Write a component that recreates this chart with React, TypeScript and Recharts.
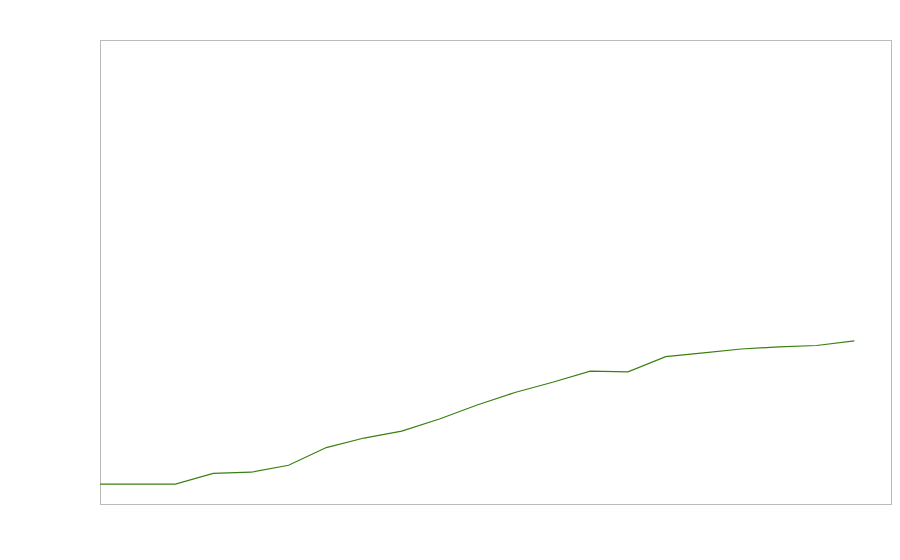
import React from "react";
import { LineChart, Line, XAxis, YAxis, ReferenceArea } from "recharts";

const indices = [0, 1, 2, 3, 4, 5, 6, 7, 8, 9, 10, 11, 12, 13, 14, 15, 16, 17, 18, 19, 20];
const values = [4.5, 4.5, 4.5, 6.8, 7.05, 8.55, 12.35, 14.4, 15.9, 18.5, 21.5, 24.2, 26.4, 28.8, 28.65, 31.9, 32.7, 33.55, 34.0, 34.3, 35.3];

const data = indices.map((i, k) => ({ x: i, v: values[k] }));

const FrameShape = (props: any) => (
  <rect
    x={props.x + 0.5}
    y={props.y + 0.5}
    width={props.width - 1}
    height={props.height - 1}
    fill="none"
    stroke="#bbbbbb"
    strokeWidth={1}
  />
);

export default function App() {
  return (
    <LineChart
      width={884}
      height={545}
      data={data}
      margin={{ top: 32, right: 0, bottom: 48, left: 92 }}
    >
      <XAxis dataKey="x" type="number" domain={[0, 21]} hide />
      <YAxis type="number" domain={[0, 100]} hide />
      <ReferenceArea x1={0} x2={21} y1={0} y2={100} shape={FrameShape} ifOverflow="visible" />
      <Line
        type="linear"
        dataKey="v"
        stroke="#3a8010"
        strokeWidth={1.2}
        dot={false}
        isAnimationActive={false}
      />
    </LineChart>
  );
}
